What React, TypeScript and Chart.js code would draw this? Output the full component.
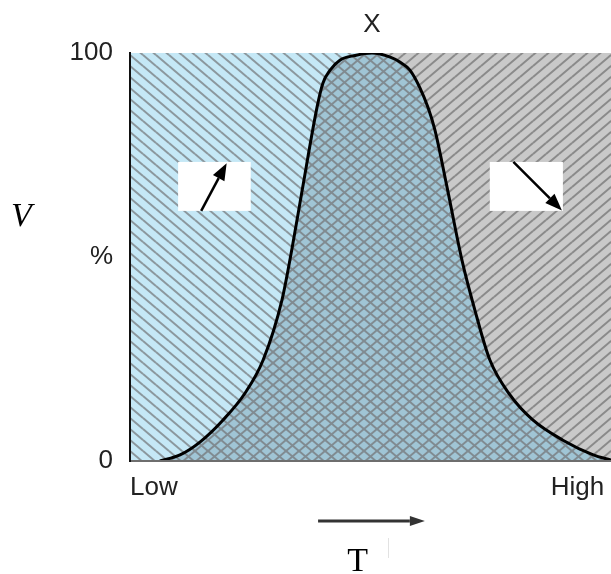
import React, { useEffect, useRef } from 'react';
import { Chart, registerables } from 'chart.js';

Chart.register(...registerables);

// Curve (x: Low→High in 0..100, y: percent)
const curveX = [6.2, 10.4, 14.6, 19.3, 23.9, 27.7, 31.6, 33.7, 35.8, 38.9, 40.1, 41.6, 43.7, 46.8, 50.3, 54.1, 56.1, 58.2, 60.3, 62.0, 63.4, 65.9, 69.0, 71.7, 74.8, 79.0, 83.8, 90.0, 96.3, 100];
const curveY = [0, 1.5, 4.7, 10.0, 16.6, 24.8, 39.5, 52.2, 66.4, 86.8, 92.6, 95.8, 98.3, 99.4, 100, 99.0, 97.8, 95.8, 91.4, 86.5, 81.1, 67.2, 49.3, 37.0, 24.8, 16.2, 10.0, 5.1, 1.5, 0.2];
const peakX = 50.3;

const xTickValues = [0, 98.6];
const xTickLabels = ['Low', 'High'];
const yTickValues = [0, 50, 100];
const yTickLabels = ['0', '%', '100'];

const topLabel = 'X';
const yLabel = 'V';
const xLabel = 'T';

// annotation boxes (data coords)
const boxXs = [[10.0, 25.1], [74.8, 90.0]];
const boxYs = [[61.3, 73.3], [61.3, 73.3]];
const arrowFrom = [[14.8, 61.3], [79.7, 73.3]];
const arrowTo = [[20.1, 73.0], [89.8, 61.4]];
const bottomArrowX = [39.1, 61.3];

const SANS = '"Liberation Sans", Arial, Helvetica, sans-serif';
const SERIF = '"Liberation Serif", "Times New Roman", serif';

function makePattern(bg: string, line: string, dirs: string[], w: number, h: number) {
  const c = document.createElement('canvas');
  c.width = w;
  c.height = h;
  const g = c.getContext('2d')!;
  g.fillStyle = bg;
  g.fillRect(0, 0, w, h);
  g.strokeStyle = line;
  g.lineWidth = 2;
  for (const d of dirs) {
    for (let i = -1; i <= 1; i++) {
      for (let j = -1; j <= 1; j++) {
        g.beginPath();
        if (d === 'down') {
          g.moveTo(i * w, j * h);
          g.lineTo(i * w + w, j * h + h);
        } else {
          g.moveTo(i * w, j * h + h);
          g.lineTo(i * w + w, j * h);
        }
        g.stroke();
      }
    }
  }
  return g.createPattern(c, 'repeat')!;
}

function drawArrow(ctx: CanvasRenderingContext2D, x1: number, y1: number, x2: number, y2: number, lw: number, headLen: number, headHalf: number, color: string) {
  const ang = Math.atan2(y2 - y1, x2 - x1);
  const bx = x2 - headLen * Math.cos(ang);
  const by = y2 - headLen * Math.sin(ang);
  ctx.save();
  ctx.strokeStyle = color;
  ctx.fillStyle = color;
  ctx.lineWidth = lw;
  ctx.beginPath();
  ctx.moveTo(x1, y1);
  ctx.lineTo(bx, by);
  ctx.stroke();
  ctx.beginPath();
  ctx.moveTo(x2, y2);
  ctx.lineTo(bx + headHalf * Math.sin(ang), by - headHalf * Math.cos(ang));
  ctx.lineTo(bx - headHalf * Math.sin(ang), by + headHalf * Math.cos(ang));
  ctx.closePath();
  ctx.fill();
  ctx.restore();
}

const annotPlugin = {
  id: 'annot',
  afterDraw(chart: any) {
    const { ctx, chartArea } = chart;
    const xs = chart.scales.x;
    const ys = chart.scales.y;
    ctx.save();
    for (let i = 0; i < boxXs.length; i++) {
      const l = xs.getPixelForValue(boxXs[i][0]);
      const r = xs.getPixelForValue(boxXs[i][1]);
      const t = ys.getPixelForValue(boxYs[i][1]);
      const b = ys.getPixelForValue(boxYs[i][0]);
      ctx.fillStyle = '#ffffff';
      ctx.fillRect(l, t, r - l, b - t);
      drawArrow(
        ctx,
        xs.getPixelForValue(arrowFrom[i][0]), ys.getPixelForValue(arrowFrom[i][1]),
        xs.getPixelForValue(arrowTo[i][0]), ys.getPixelForValue(arrowTo[i][1]),
        2.5, 17, 6.5, '#000'
      );
    }
    ctx.fillStyle = '#222';
    ctx.font = `26px ${SANS}`;
    ctx.textAlign = 'center';
    ctx.textBaseline = 'alphabetic';
    ctx.fillText(topLabel, xs.getPixelForValue(peakX), chartArea.top - 21);
    ctx.fillStyle = '#000';
    ctx.font = `italic 34px ${SERIF}`;
    ctx.textAlign = 'left';
    ctx.fillText(yLabel, 11, ys.getPixelForValue(57.5));
    const ay = chartArea.bottom + 60;
    drawArrow(ctx, xs.getPixelForValue(bottomArrowX[0]), ay, xs.getPixelForValue(bottomArrowX[1]), ay, 3, 15, 5, '#333');
    ctx.strokeStyle = '#e2e2e2';
    ctx.lineWidth = 1;
    ctx.beginPath();
    ctx.moveTo(Math.round(xs.getPixelForValue(53.6)) + 0.5, chartArea.bottom + 77);
    ctx.lineTo(Math.round(xs.getPixelForValue(53.6)) + 0.5, chartArea.bottom + 97);
    ctx.stroke();
    ctx.fillStyle = '#000';
    ctx.font = `34px ${SERIF}`;
    ctx.textAlign = 'center';
    ctx.fillText(xLabel, xs.getPixelForValue(47.3), chartArea.bottom + 110);
    ctx.restore();
  },
};

export default function App() {
  const ref = useRef<HTMLCanvasElement>(null);
  useEffect(() => {
    if (!ref.current) return;
    const bluePat = makePattern('#c5e8f6', '#8b979d', ['down'], 13, 11);
    const grayPat = makePattern('#c9c9c9', '#8a8a8a', ['up'], 13, 11);
    const crossPat = makePattern('#a0c5d5', '#808b91', ['down', 'up'], 13, 11);
    const chart = new Chart(ref.current, {
      type: 'line',
      data: {
        datasets: [
          {
            data: curveX.map((x, i) => ({ x, y: curveY[i] })),
            borderColor: '#000',
            borderWidth: 3,
            pointRadius: 0,
            fill: 'origin',
            backgroundColor: crossPat,
            cubicInterpolationMode: 'monotone',
          },
          {
            data: [{ x: 0, y: 100 }, { x: peakX, y: 100 }],
            borderColor: 'rgba(0,0,0,0)',
            borderWidth: 0,
            pointRadius: 0,
            fill: 'origin',
            backgroundColor: bluePat,
          },
          {
            data: [{ x: peakX, y: 100 }, { x: 100, y: 100 }],
            borderColor: 'rgba(0,0,0,0)',
            borderWidth: 0,
            pointRadius: 0,
            fill: 'origin',
            backgroundColor: grayPat,
          },
        ],
      } as any,
      options: {
        animation: false,
        responsive: false,
        events: [],
        plugins: { legend: { display: false }, tooltip: { enabled: false }, title: { display: false } },
        layout: { padding: { top: 53, left: 0, right: 0, bottom: 0 } },
        scales: {
          x: {
            type: 'linear',
            min: 0,
            max: 100,
            afterBuildTicks: (s: any) => {
              s.ticks = xTickValues.map((v) => ({ value: v }));
            },
            afterFit: (s: any) => {
              s.height = 113;
              s.paddingLeft = 0;
              s.paddingRight = 0;
            },
            ticks: {
              align: 'inner',
              padding: 11,
              color: '#222',
              maxRotation: 0,
              autoSkip: false,
              font: { family: SANS, size: 26 },
              callback: (v: any) => xTickLabels[xTickValues.indexOf(Number(v))],
            },
            grid: { color: 'rgba(0,0,0,0)', drawTicks: false },
            border: { color: '#6e6e6e', width: 2, z: 1 },
          },
          y: {
            type: 'linear',
            min: 0,
            max: 100,
            afterBuildTicks: (s: any) => {
              s.ticks = yTickValues.map((v) => ({ value: v }));
            },
            afterFit: (s: any) => {
              s.width = 130;
            },
            ticks: {
              padding: 17,
              color: '#222',
              autoSkip: false,
              font: { family: SANS, size: 26 },
              callback: (v: any) => yTickLabels[yTickValues.indexOf(Number(v))],
            },
            grid: { color: 'rgba(0,0,0,0)', drawTicks: false },
            border: { color: '#111', width: 2, z: 1 },
          },
        },
      } as any,
      plugins: [annotPlugin],
    });
    return () => chart.destroy();
  }, []);
  return (
    <div style={{ position: 'absolute', left: 0, top: 0, width: 611, height: 574, background: '#fff' }}>
      <canvas ref={ref} width={611} height={574} style={{ display: 'block' }} />
    </div>
  );
}
